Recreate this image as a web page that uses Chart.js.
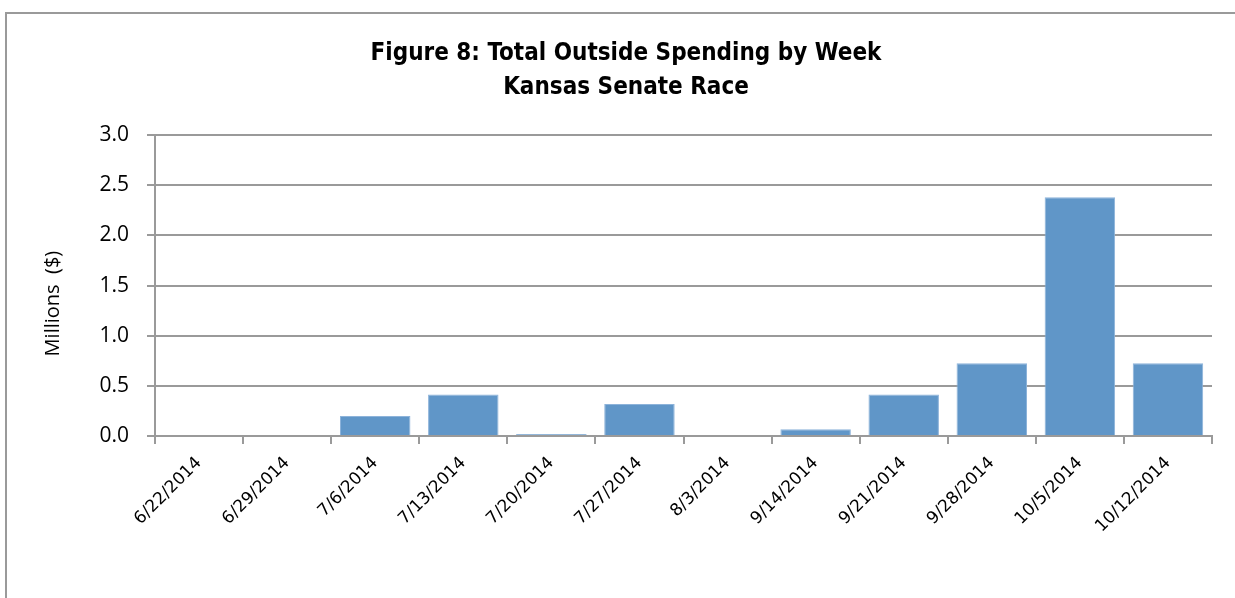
<!DOCTYPE html>
<html><head><meta charset="utf-8">
<script src="https://cdn.jsdelivr.net/npm/chart.js@4.4.1/dist/chart.umd.min.js"></script>
<style>html,body{margin:0;padding:0;background:#fff;}#wrap{width:1235px;height:598px;position:relative;}</style>
</head><body><div id="wrap"><canvas id="c" width="1235" height="598"></canvas></div>
<script>
const categories = ["6/22/2014","6/29/2014","7/6/2014","7/13/2014","7/20/2014","7/27/2014","8/3/2014","9/14/2014","9/21/2014","9/28/2014","10/5/2014","10/12/2014"];
const spending = [0, 0, 0.20, 0.415, 0.02, 0.32, 0, 0.067, 0.415, 0.725, 2.38, 0.725];
const titleLines = ["Figure 8: Total Outside Spending by Week", "Kansas Senate Race"];
const yTitle = "Millions  ($)";

const frame = {
  id: 'frame',
  beforeDraw(chart) {
    const ctx = chart.ctx;
    ctx.save();
    ctx.fillStyle = '#fff';
    ctx.fillRect(0, 0, chart.width, chart.height);
    ctx.strokeStyle = '#9a9a9a';
    ctx.lineWidth = 2;
    ctx.strokeRect(6, 13, 1400, 800);
    ctx.restore();
  },
  afterDraw(chart) {
    const ctx = chart.ctx;
    const a = chart.chartArea;
    ctx.save();
    ctx.translate(53, (a.top + a.bottom) / 2 + 18);
    ctx.rotate(-Math.PI / 2);
    ctx.fillStyle = '#000';
    ctx.font = "20px 'Open Sans', 'Liberation Sans', sans-serif";
    ctx.textAlign = 'center';
    ctx.textBaseline = 'middle';
    ctx.fillText(yTitle, 0, 0);
    ctx.restore();
  }
};

new Chart(document.getElementById('c'), {
  type: 'bar',
  data: {
    labels: categories,
    datasets: [{
      data: spending,
      backgroundColor: '#6096c8',
      borderColor: '#8db3da',
      borderWidth: 1,
      barPercentage: 0.8,
      categoryPercentage: 1.0
    }]
  },
  options: {
    responsive: false,
    animation: false,
    layout: { padding: { left: 40, right: 23, top: 0, bottom: 0 } },
    plugins: {
      legend: { display: false },
      tooltip: { enabled: false },
      title: {
        display: true,
        text: titleLines,
        color: '#000',
        font: { family: "'Liberation Sans Narrow', 'DejaVu Sans Condensed', 'Liberation Sans', sans-serif", size: 24, weight: 'bold', lineHeight: 1.42 },
        padding: { top: 37, bottom: 30 }
      }
    },
    scales: {
      x: {
        grid: { display: true, drawOnChartArea: false, drawTicks: true, tickLength: 8, color: '#9a9a9a', lineWidth: 2, offset: true },
        border: { display: true, color: '#9a9a9a', width: 2 },
        ticks: {
          color: '#000', minRotation: 45, maxRotation: 45, autoSkip: false, padding: 9,
          font: { family: "'DejaVu Sans', sans-serif", size: 17 }
        },
        afterFit(s) { s.height = 162; }
      },
      y: {
        min: 0, max: 3.0,
        grid: { color: '#9a9a9a', lineWidth: 2, drawTicks: true, tickLength: 8 },
        border: { display: true, color: '#9a9a9a', width: 2 },
        ticks: {
          stepSize: 0.5, color: '#000', padding: 18,
          font: { family: "'Open Sans', 'Liberation Sans', sans-serif", size: 21 },
          callback: v => Number(v).toFixed(1)
        },
        afterFit(s) { s.width = 115; }
      }
    }
  },
  plugins: [frame]
});
</script></body></html>
